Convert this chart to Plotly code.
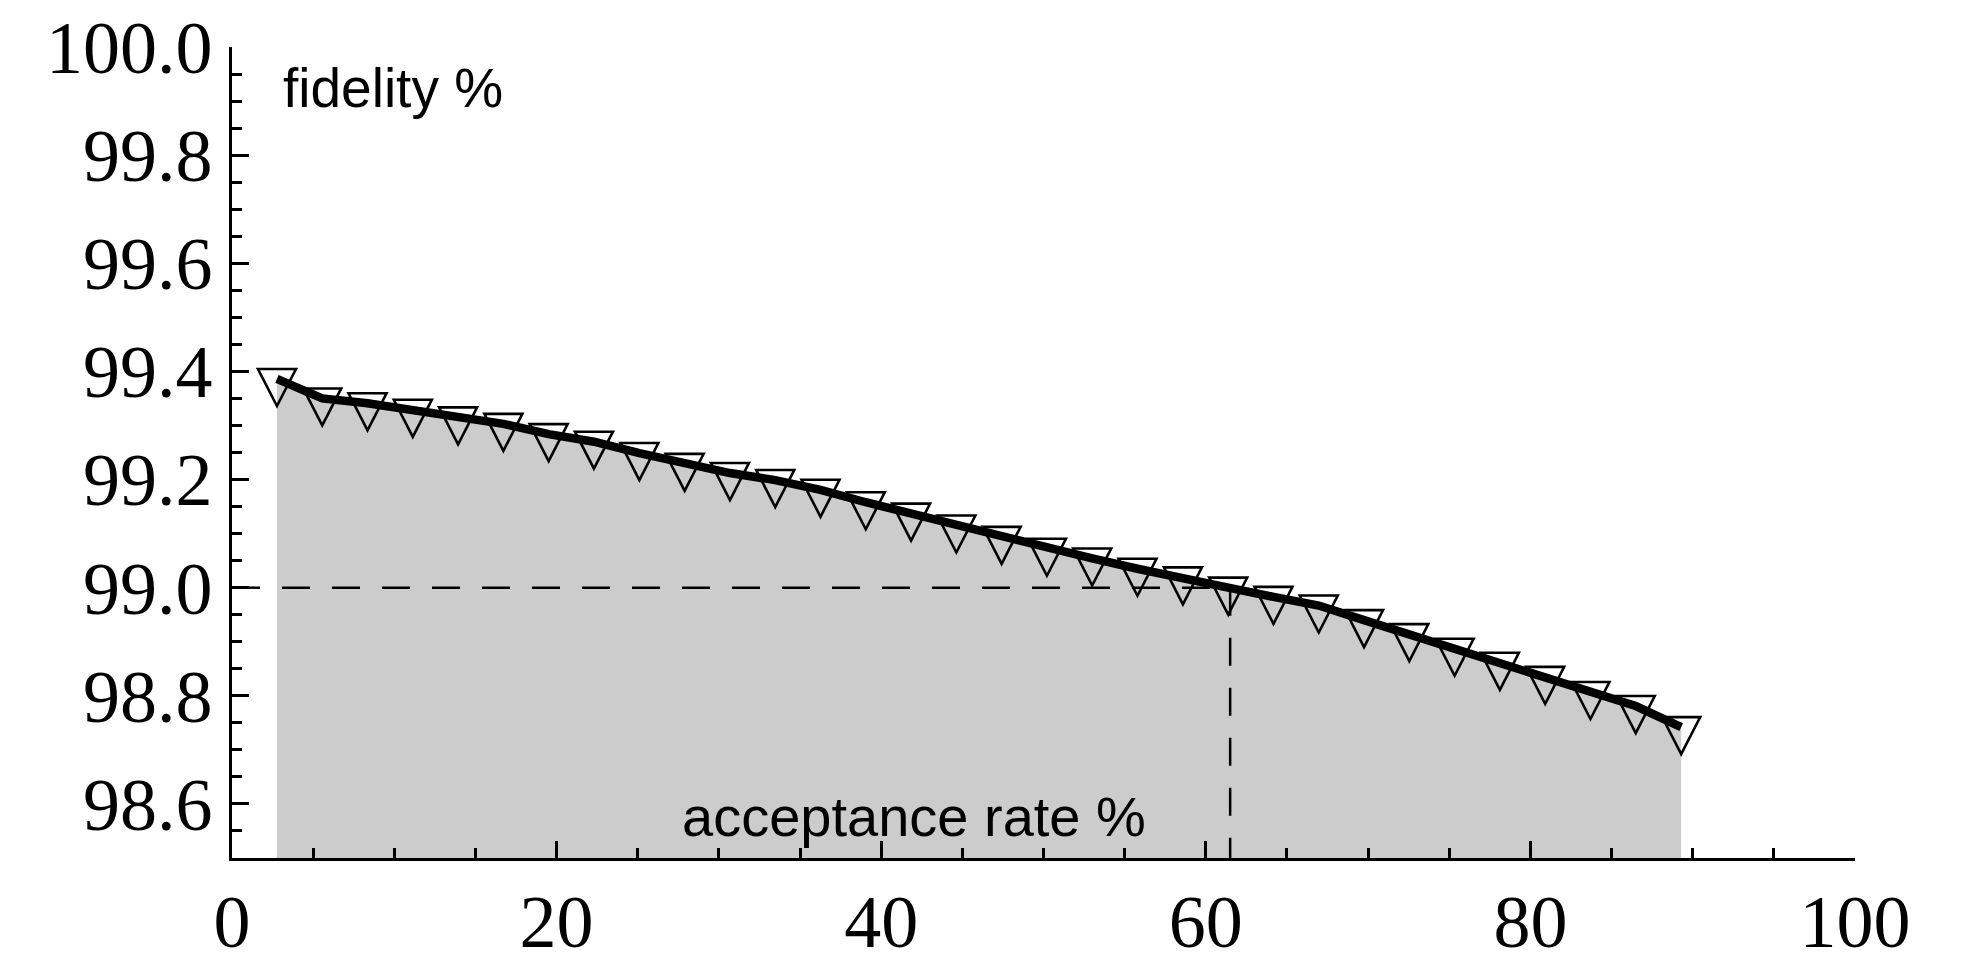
import plotly.graph_objects as go

# Acceptance rate (%) and the corresponding fidelity (%)
acceptance = [2.77, 5.56, 8.35, 11.14, 13.93, 16.72, 19.51, 22.30, 25.10, 27.89,
              30.68, 33.47, 36.26, 39.05, 41.84, 44.63, 47.42, 50.21, 53.00, 55.79,
              58.59, 61.38, 64.17, 66.96, 69.75, 72.54, 75.33, 78.12, 80.91, 83.70,
              86.49, 89.29]
fidelity = [99.386, 99.350, 99.341, 99.329, 99.315, 99.303, 99.284, 99.270, 99.249, 99.229,
            99.212, 99.199, 99.181, 99.158, 99.137, 99.115, 99.094, 99.072, 99.054, 99.035,
            99.019, 99.000, 98.983, 98.967, 98.940, 98.914, 98.887, 98.861, 98.835, 98.807,
            98.781, 98.742]

# Operating point: 99 % fidelity reached at this acceptance rate
target_fidelity = 99.0
target_acceptance = 61.5

x_range = [0, 100]
y_range = [98.5, 100.0]
x_major = [0, 20, 40, 60, 80, 100]
y_major = [98.6, 98.8, 99.0, 99.2, 99.4, 99.6, 99.8, 100.0]
y_major_text = ["98.6", "98.8", "99.0", "99.2", "99.4", "99.6", "99.8", "100.0"]

SERIF = "Liberation Serif, Times New Roman, serif"
SANS = "Liberation Sans, Arial, sans-serif"
DASH = "28px,22px"

fig = go.Figure()

# shaded area under the curve
fig.add_trace(go.Scatter(
    x=acceptance, y=fidelity, mode="lines", fill="tozeroy",
    fillcolor="#cccccc", line=dict(width=0, color="#cccccc"),
    hoverinfo="skip", showlegend=False))

# dashed guides to the operating point
fig.add_trace(go.Scatter(
    x=[x_range[0], target_acceptance], y=[target_fidelity, target_fidelity],
    mode="lines", line=dict(color="black", width=2.5, dash=DASH),
    hoverinfo="skip", showlegend=False))
fig.add_trace(go.Scatter(
    x=[target_acceptance, target_acceptance], y=[target_fidelity, y_range[0]],
    mode="lines", line=dict(color="black", width=2.5, dash=DASH),
    hoverinfo="skip", showlegend=False))

# fidelity curve
fig.add_trace(go.Scatter(
    x=acceptance, y=fidelity, mode="lines",
    line=dict(color="black", width=8.5),
    showlegend=False))

# open down-pointing triangle at every sample (pixel-sized, anchored on the data)
TRIANGLE = "M-19,10 L19,10 L0,-27 Z"
for xa, ya in zip(acceptance, fidelity):
    fig.add_shape(type="path", xref="x", yref="y",
                  xsizemode="pixel", ysizemode="pixel",
                  xanchor=xa, yanchor=ya, path=TRIANGLE,
                  line=dict(color="black", width=2.6),
                  fillcolor="rgba(0,0,0,0)", layer="above")

fig.add_annotation(text="fidelity %", x=3.0, y=99.925, xref="x", yref="y",
                   xanchor="left", yanchor="middle", showarrow=False,
                   font=dict(family=SANS, size=55, color="black"))
fig.add_annotation(text="acceptance rate %", x=27.6, y=98.577, xref="x", yref="y",
                   xanchor="left", yanchor="middle", showarrow=False,
                   font=dict(family=SANS, size=56, color="black"))

axis_common = dict(
    showline=True, linecolor="black", linewidth=2.5, mirror=False,
    showgrid=False, zeroline=False, ticks="inside", tickcolor="black",
    tickwidth=2.5, ticklen=17, automargin=False,
    tickfont=dict(family=SERIF, size=74, color="black"),
)

fig.update_xaxes(range=x_range, tickvals=x_major, ticktext=[str(v) for v in x_major],
                 ticklabelstandoff=-3,
                 minor=dict(dtick=5, tick0=0, ticks="inside", ticklen=10,
                            tickwidth=2.5, tickcolor="black", showgrid=False),
                 **axis_common)
fig.update_yaxes(range=y_range, tickvals=y_major, ticktext=y_major_text,
                 ticklabelstandoff=2,
                 minor=dict(dtick=0.05, tick0=98.5, ticks="inside", ticklen=10,
                            tickwidth=2.5, tickcolor="black", showgrid=False),
                 **axis_common)

fig.update_layout(
    width=1967, height=961,
    margin=dict(l=232, r=112, t=47, b=103, pad=0),
    paper_bgcolor="white", plot_bgcolor="white",
    showlegend=False,
)

fig.write_html("out.html", config={"displayModeBar": False})
